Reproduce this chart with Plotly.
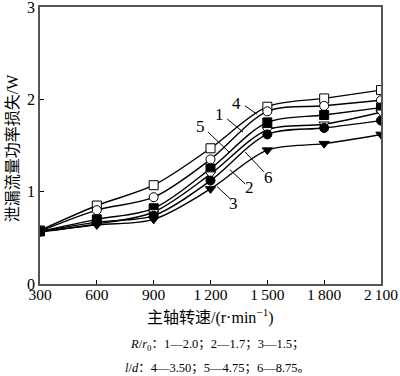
import plotly.graph_objects as go

speed = [300, 600, 900, 1200, 1500, 1800, 2100]
s1 = [0.57, 0.80, 0.94, 1.35, 1.87, 1.93, 1.99]
s2 = [0.57, 0.70, 0.82, 1.25, 1.75, 1.83, 1.91]
s3 = [0.56, 0.64, 0.70, 1.03, 1.45, 1.52, 1.62]
s4 = [0.58, 0.85, 1.07, 1.47, 1.92, 2.01, 2.10]
s5 = [0.57, 0.65, 0.78, 1.19, 1.67, 1.73, 1.86]
s6 = [0.57, 0.67, 0.74, 1.12, 1.62, 1.69, 1.77]

x_ticks = [300, 600, 900, 1200, 1500, 1800, 2100]
x_tick_text = ["300", "600", "900", "1\u2009200", "1\u2009500", "1\u2009800", "2\u2009100"]
y_ticks = [0, 1, 2, 3]
y_tick_text = ["0", "1", "2", "3"]

series = [
    (s4, "square", "white"),
    (s1, "circle", "white"),
    (s2, "square", "black"),
    (s5, "triangle-down", "white"),
    (s6, "circle", "black"),
    (s3, "triangle-down", "black"),
]

# curve labels: (text, label x, label y, line start x, y, line end x, y)
labels = [
    ("4", 1335, 1.96, 1372, 1.946, 1445, 1.839),
    ("1", 1250, 1.84, 1277, 1.806, 1372, 1.645),
    ("5", 1145, 1.71, 1176, 1.667, 1303, 1.419),
    ("6", 1504, 1.15, 1372, 1.452, 1482, 1.215),
    ("2", 1408, 1.04, 1292, 1.258, 1382, 1.086),
    ("3", 1319, 0.87, 1224, 1.075, 1303, 0.925),
]

SERIF = "Liberation Serif, Times New Roman, Noto Sans CJK SC, serif"

fig = go.Figure()
for ys, sym, fill in series:
    fig.add_trace(go.Scatter(x=speed, y=ys, mode="lines",
                             line=dict(color="black", width=1.4, shape="spline", smoothing=0.9),
                             showlegend=False, hoverinfo="skip"))
for ys, sym, fill in series:
    fig.add_trace(go.Scatter(x=speed, y=ys, mode="markers",
                             marker=dict(symbol=sym, size=9, color=fill,
                                         line=dict(color="black", width=1)),
                             showlegend=False))

anns = []
for t, lx, ly, x0, y0, x1, y1 in labels:
    anns.append(dict(x=lx, y=ly, xref="x", yref="y", text=t, showarrow=False,
                     font=dict(family=SERIF, size=17, color="black")))
    anns.append(dict(x=x1, y=y1, ax=x0, ay=y0, xref="x", yref="y", axref="x", ayref="y",
                     text=" ", showarrow=True, arrowhead=0, arrowwidth=1, arrowcolor="black",
                     font=dict(size=2)))

anns.append(dict(x=-0.082, y=0.49, xref="paper", yref="paper", textangle=-90,
                 xanchor="center", yanchor="middle",
                 text="泄漏流量功率损失/W", showarrow=False,
                 font=dict(family=SERIF, size=16, color="black")))
anns.append(dict(x=0.5, y=-0.116, xref="paper", yref="paper", yanchor="middle",
                 text="主轴转速/(r·min<sup>−1</sup>)", showarrow=False,
                 font=dict(family=SERIF, size=16, color="black")))
anns.append(dict(x=0.258, y=-0.221, xref="paper", yref="paper", xanchor="left", yanchor="middle",
                 text="<i>R</i>/<i>r</i><sub>0</sub>：1—2.0；2—1.7；3—1.5；", showarrow=False,
                 font=dict(family=SERIF, size=12.5, color="black")))
anns.append(dict(x=0.243, y=-0.304, xref="paper", yref="paper", xanchor="left", yanchor="middle",
                 text="<i>l</i>/<i>d</i>：4—3.50；5—4.75；6—8.75。", showarrow=False,
                 font=dict(family=SERIF, size=12.5, color="black")))

fig.update_layout(
    width=400, height=376,
    margin=dict(l=40, r=19, t=7, b=92),
    paper_bgcolor="white", plot_bgcolor="white",
    annotations=anns,
    font=dict(family=SERIF, color="black"),
)
fig.update_xaxes(range=[300, 2100], tickvals=x_ticks, ticktext=x_tick_text, automargin=False,
                 ticklabeloverflow="allow", ticklabelstandoff=-4,
                 ticks="inside", ticklen=4, tickcolor="black", showgrid=False, zeroline=False,
                 showline=True, linecolor="#555", linewidth=1.5, mirror=True,
                 tickfont=dict(family=SERIF, size=15.5, color="black"))
fig.update_yaxes(range=[0, 3], tickvals=y_ticks, ticktext=y_tick_text, automargin=False,
                 ticklabeloverflow="allow",
                 ticks="inside", ticklen=4, tickcolor="black", showgrid=False, zeroline=False,
                 showline=True, linecolor="#555", linewidth=1.5, mirror=True,
                 tickfont=dict(family=SERIF, size=16, color="black"))

fig.write_html("out.html", config={"displayModeBar": False},
               post_script="document.body.style.margin='0';document.body.style.overflow='hidden';")
